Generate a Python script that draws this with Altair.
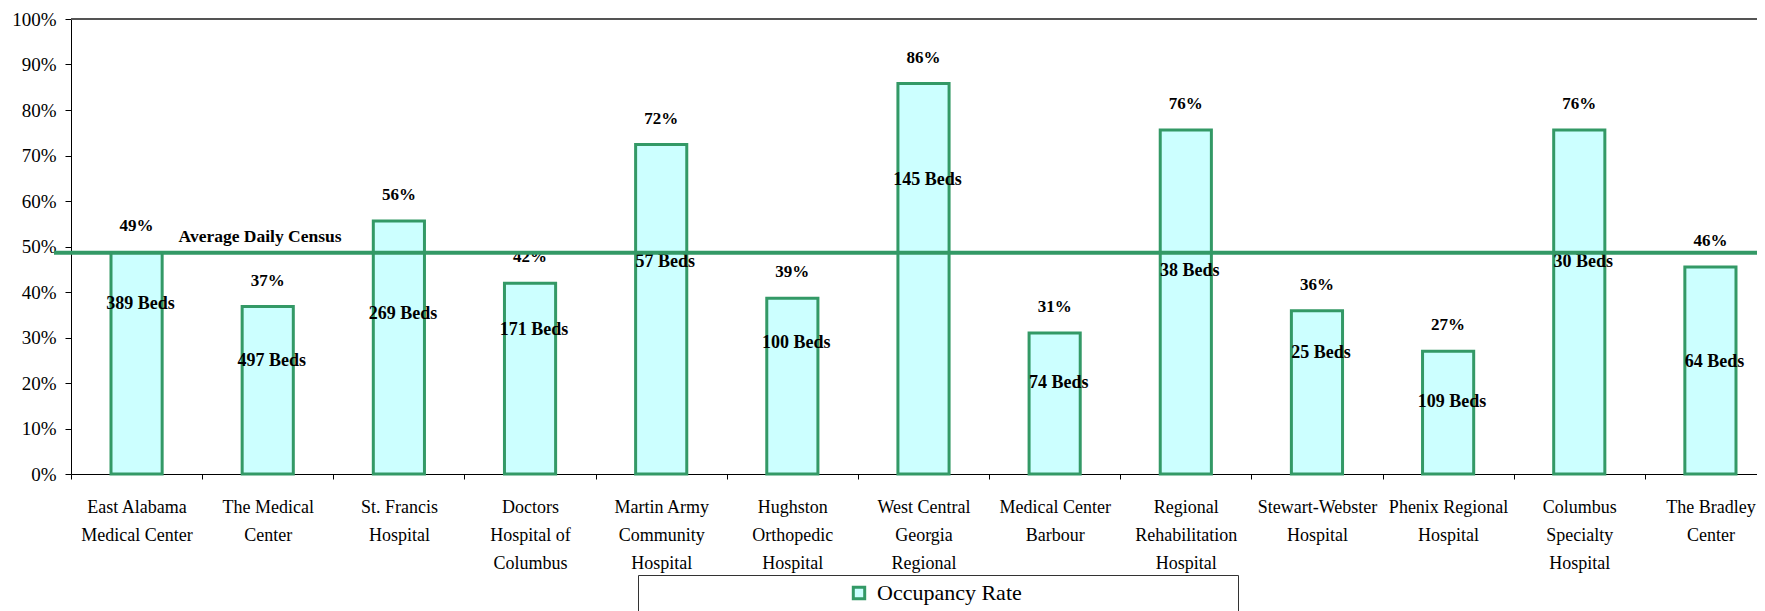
import altair as alt
import pandas as pd

# ---- data ----
hospital_lines = [
    ["East Alabama", "Medical Center"],
    ["The Medical", "Center"],
    ["St. Francis", "Hospital"],
    ["Doctors", "Hospital of", "Columbus"],
    ["Martin Army", "Community", "Hospital"],
    ["Hughston", "Orthopedic", "Hospital"],
    ["West Central", "Georgia", "Regional"],
    ["Medical Center", "Barbour"],
    ["Regional", "Rehabilitation", "Hospital"],
    ["Stewart-Webster", "Hospital"],
    ["Phenix Regional", "Hospital"],
    ["Columbus", "Specialty", "Hospital"],
    ["The Bradley", "Center"],
]
occupancy = [0.487, 0.368, 0.556, 0.419, 0.724, 0.386, 0.858, 0.310, 0.756, 0.359, 0.270, 0.756, 0.455]
beds = [389, 497, 269, 171, 57, 100, 145, 74, 38, 25, 109, 30, 64]
beds_label_y = [0.374, 0.249, 0.352, 0.316, 0.467, 0.289, 0.646, 0.199, 0.446, 0.267, 0.158, 0.467, 0.246]
average_daily_census = 0.486
series_name = "Occupancy Rate"

categories = ["|".join(l) for l in hospital_lines]

df = pd.DataFrame({
    "cat": categories,
    "value": occupancy,
    "beds_text": [f"{b} Beds" for b in beds],
    "beds_y": beds_label_y,
    "series": [series_name] * len(categories),
})
avg_df = pd.DataFrame({"cat": [categories[0]], "avg": [average_daily_census],
                       "txt": ["Average Daily Census"]})

FONT = "Liberation Serif"
GREEN = "#339966"
FILL = "#CCFFFF"
RANGE_W = 1705

xscale = alt.Scale(domain=categories, range=[0, RANGE_W], paddingInner=0, paddingOuter=0)
yscale = alt.Scale(domain=[0, 1], nice=False)

x_enc = alt.X("cat:N", scale=xscale, title=None,
              axis=alt.Axis(labelExpr="split(datum.label, '|')", labelAngle=0,
                            tickBand="extent", tickSize=5, tickColor="black",
                            domainColor="black", labelFont=FONT, labelFontSize=18,
                            labelColor="black", labelLineHeight=28, labelPadding=19,
                            labelLimit=300, grid=False))
y_enc = alt.Y("value:Q", scale=yscale, title=None,
              axis=alt.Axis(values=[i / 10 for i in range(11)], format=".0%",
                            tickSize=6, tickColor="black", domainColor="black",
                            labelFont=FONT, labelFontSize=19, labelColor="black",
                            labelPadding=9, grid=False))

base = alt.Chart(df)

# legend frame: a tiny transparent bottom title sets the frame's width
legend_width_title = "0" * 586

bars = base.mark_bar(stroke=GREEN, strokeWidth=3, width=alt.RelativeBandSize(0.39)).encode(
    x=x_enc, y=y_enc,
    fill=alt.Fill("series:N", scale=alt.Scale(range=[FILL]),
                  legend=alt.Legend(orient="none", legendX=567, legendY=556,
                                    title=legend_width_title, titleOrient="bottom",
                                    titleFont=FONT, titleFontSize=2, titleOpacity=0,
                                    titleLimit=4000, titlePadding=2,
                                    labelFont=FONT, labelFontSize=22, labelColor="black",
                                    labelLimit=1000, labelOffset=7,
                                    symbolType="square", symbolSize=130, symbolOffset=203,
                                    symbolStrokeColor=GREEN, symbolStrokeWidth=3,
                                    symbolFillColor=FILL,
                                    strokeColor="#333333", fillColor="white", padding=7)),
)

top_border = base.mark_rule(color="#555555", strokeWidth=1.5).encode(
    y=alt.datum(1.0), x=alt.value(0), x2=alt.value(RANGE_W))

pct_labels = base.mark_text(dy=-26, font=FONT, fontSize=17, fontWeight="bold",
                            color="black", baseline="middle").encode(
    x="cat:N", y="value:Q", text=alt.Text("value:Q", format=".0%"))

beds_labels = base.mark_text(dx=4, font=FONT, fontSize=18, fontWeight="bold",
                             color="black", baseline="middle").encode(
    x="cat:N", y="beds_y:Q", text="beds_text:N")

avg_text = alt.Chart(avg_df).mark_text(align="left", dx=42, dy=-16, font=FONT,
                                       fontSize=17.5, fontWeight="bold", color="black",
                                       baseline="middle").encode(
    x="cat:N", y="avg:Q", text="txt:N")

avg_line = alt.Chart(avg_df).mark_rule(color=GREEN, strokeWidth=4).encode(
    y="avg:Q", x=alt.value(-17), x2=alt.value(RANGE_W))

chart = alt.layer(bars, top_border, pct_labels, beds_labels, avg_text, avg_line).properties(
    width=1686, height=455,
    autosize=alt.AutoSizeParams(type="none"),
    padding={"left": 63, "top": 11, "right": 0, "bottom": 137},
    background="white",
).configure_view(stroke=None)

chart.save("out.html", embed_options={"renderer": "svg", "actions": False})
